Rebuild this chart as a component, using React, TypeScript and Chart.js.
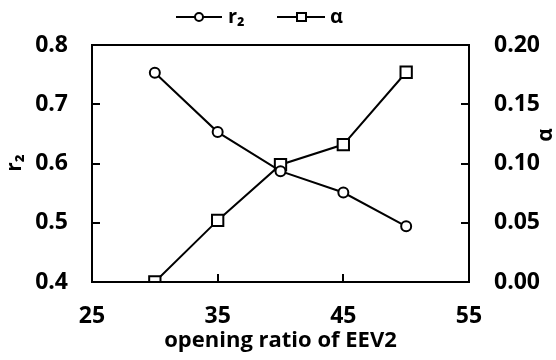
import React, { useEffect, useRef } from "react";
import { Chart, registerables } from "chart.js";

Chart.register(...registerables);

const openingRatio = [30, 35, 40, 45, 50];
const r2Values = [0.753, 0.653, 0.587, 0.551, 0.494];
const alphaValues = [0.0, 0.052, 0.099, 0.116, 0.177];
const xTicks = [25, 35, 45, 55];
const leftTicks = [0.4, 0.5, 0.6, 0.7, 0.8];
const rightTicks = [0.0, 0.05, 0.1, 0.15, 0.2];

const FONT = "'Open Sans', 'Noto Sans', sans-serif";

const framePlugin = {
  id: "frame",
  afterDraw(chart: any) {
    const { ctx, chartArea } = chart;
    const { left, right, top, bottom } = chartArea;
    ctx.save();
    ctx.strokeStyle = "#000";
    ctx.lineWidth = 2;
    ctx.strokeRect(left, top, right - left, bottom - top);
    const tl = 8;
    ctx.beginPath();
    const xs = chart.scales.x;
    xTicks.slice(1, -1).forEach((v) => {
      const px = Math.round(xs.getPixelForValue(v));
      ctx.moveTo(px, bottom);
      ctx.lineTo(px, bottom - tl);
    });
    const ys = chart.scales.y;
    leftTicks.slice(1, -1).forEach((v) => {
      const py = Math.round(ys.getPixelForValue(v));
      ctx.moveTo(left, py);
      ctx.lineTo(left + tl, py);
    });
    const y1 = chart.scales.y1;
    rightTicks.slice(1, -1).forEach((v) => {
      const py = Math.round(y1.getPixelForValue(v));
      ctx.moveTo(right, py);
      ctx.lineTo(right - tl, py);
    });
    ctx.stroke();

    // axis titles
    ctx.fillStyle = "#000";
    ctx.font = `bold 22px ${FONT}`;
    ctx.textAlign = "center";
    ctx.textBaseline = "middle";
    ctx.fillText("opening ratio of EEV2", (left + right) / 2, 341);

    ctx.save();
    ctx.translate(15, 163);
    ctx.rotate(-Math.PI / 2);
    ctx.font = `bold 21px ${FONT}`;
    ctx.fillText("r₂", 0, 0);
    ctx.restore();

    ctx.save();
    ctx.translate(546, 135);
    ctx.rotate(-Math.PI / 2);
    ctx.font = `bold 21px ${FONT}`;
    ctx.fillText("α", 0, 0);
    ctx.restore();

    // legend
    const ly = 17;
    ctx.lineWidth = 2;
    ctx.beginPath();
    ctx.moveTo(176, ly);
    ctx.lineTo(222, ly);
    ctx.moveTo(277, ly);
    ctx.lineTo(325, ly);
    ctx.stroke();
    ctx.fillStyle = "#fff";
    ctx.beginPath();
    ctx.arc(199, ly, 4, 0, Math.PI * 2);
    ctx.fill();
    ctx.stroke();
    ctx.fillRect(297, ly - 4, 9, 8);
    ctx.strokeRect(297, ly - 4, 9, 8);
    ctx.fillStyle = "#000";
    ctx.textAlign = "left";
    ctx.font = `bold 20px ${FONT}`;
    ctx.fillText("r₂", 228, ly);
    ctx.fillText("α", 330, ly);
    ctx.restore();
  },
};

export default function App() {
  const ref = useRef<HTMLCanvasElement | null>(null);
  useEffect(() => {
    document.body.style.margin = "0";
    const canvas = ref.current!;
    const tickFont = { family: FONT, size: 23, weight: "bold" as const };
    const chart = new Chart(canvas, {
      type: "line",
      data: {
        datasets: [
          {
            label: "r₂",
            data: openingRatio.map((x, i) => ({ x, y: r2Values[i] })),
            yAxisID: "y",
            borderColor: "#000",
            borderWidth: 2,
            pointStyle: "circle",
            pointRadius: 5,
            pointBorderWidth: 2,
            pointBackgroundColor: "#fff",
            pointBorderColor: "#000",
            tension: 0,
          },
          {
            label: "α",
            data: openingRatio.map((x, i) => ({ x, y: alphaValues[i] })),
            yAxisID: "y1",
            borderColor: "#000",
            borderWidth: 2,
            pointStyle: "rect",
            pointRadius: 8,
            pointBorderWidth: 2,
            pointBackgroundColor: "#fff",
            pointBorderColor: "#000",
            tension: 0,
          },
        ],
      },
      options: {
        responsive: false,
        animation: false,
        layout: { padding: { top: 45, left: 0, right: 0, bottom: 0 } },
        plugins: { legend: { display: false }, tooltip: { enabled: false } },
        scales: {
          x: {
            type: "linear",
            min: 25,
            max: 55,
            afterBuildTicks: (s: any) => {
              s.ticks = xTicks.map((v) => ({ value: v }));
            },
            afterFit: (s: any) => {
              s.height = 78;
            },
            grid: { display: false, drawTicks: false },
            border: { display: false },
            ticks: {
              padding: 21,
              color: "#000",
              font: tickFont,
              maxRotation: 0,
              callback: (v: any) => String(v),
            },
          },
          y: {
            type: "linear",
            position: "left",
            min: 0.4,
            max: 0.8,
            afterBuildTicks: (s: any) => {
              s.ticks = leftTicks.map((v) => ({ value: v }));
            },
            afterFit: (s: any) => {
              s.width = 92;
            },
            grid: { display: false, drawTicks: false },
            border: { display: false },
            ticks: {
              padding: 24,
              color: "#000",
              font: tickFont,
              callback: (v: any) => Number(v).toFixed(1),
            },
          },
          y1: {
            type: "linear",
            position: "right",
            min: 0,
            max: 0.2,
            afterBuildTicks: (s: any) => {
              s.ticks = rightTicks.map((v) => ({ value: v }));
            },
            afterFit: (s: any) => {
              s.width = 87;
            },
            grid: { display: false, drawTicks: false },
            border: { display: false },
            ticks: {
              padding: 25,
              color: "#000",
              font: tickFont,
              callback: (v: any) => Number(v).toFixed(2),
            },
          },
        },
      },
      plugins: [framePlugin],
    });
    return () => chart.destroy();
  }, []);
  return (
    <div style={{ width: 556, height: 360, background: "#fff" }}>
      <canvas ref={ref} width={556} height={360} style={{ display: "block" }} />
    </div>
  );
}
